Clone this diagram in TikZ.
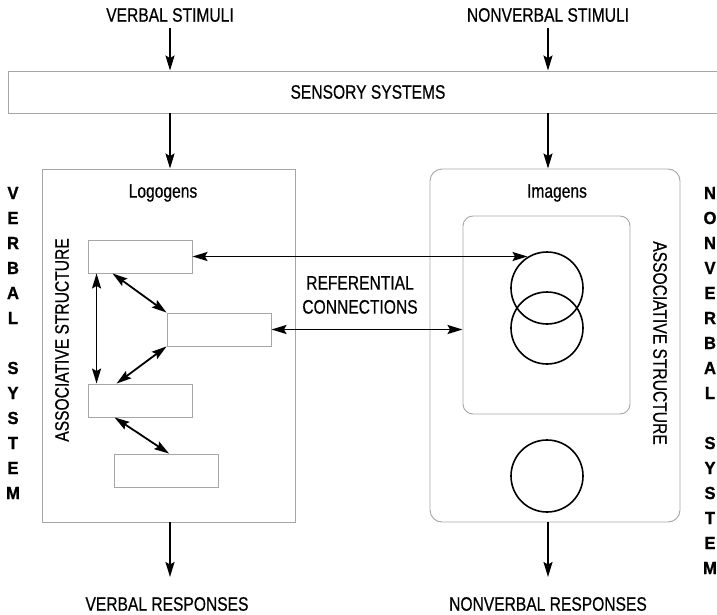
\documentclass[tikz,border=0pt]{standalone}
\usepackage{fontspec}
\newfontfamily\diagfont{Liberation Sans}[FakeStretch=0.8,FakeBold=0.5]
\newfontfamily\sysfont{Liberation Sans Bold}[FakeStretch=0.95,FakeBold=1]
\usetikzlibrary{arrows.meta}

\tikzset{
  lbl/.style={font=\diagfont\fontsize{19.5}{24}\selectfont, inner sep=2pt},
  sysletter/.style={font=\sysfont\fontsize{17.5}{20}\selectfont, inner sep=0pt},
  box/.style={draw=gray!70, line width=0.9pt},
  logo/.style={box, minimum width=104pt, minimum height=33pt, inner sep=0pt},
  img/.style={circle, draw, line width=1.6pt, minimum size=72pt, inner sep=0pt},
  tip/.tip={Stealth[length=15pt,width=9pt,inset=2.5pt]},
  arr/.style={line width=1.8pt, -tip},
  dbl/.style={line width=1.8pt, tip-tip},
}

\begin{document}
\begin{tikzpicture}[x=1pt,y=-1pt]
\useasboundingbox (0,0) rectangle (717,615);
\clip (0,0) rectangle (717,615);

% stimuli and sensory systems
\node[lbl] (vstim) at (170,15) {VERBAL STIMULI};
\node[lbl] (nvstim) at (548,15) {NONVERBAL STIMULI};
\node[lbl, box, minimum width=720pt, minimum height=42pt] (sensory) at (368,92) {SENSORY SYSTEMS};

% the two systems
\node[box, minimum width=253pt, minimum height=353pt] (verbal) at (168.5,345.5) {};
\node[box, rounded corners=12pt, minimum width=250pt, minimum height=353pt] (nonverbal) at (555,345.5) {};
\node[box, rounded corners=10pt, minimum width=167pt, minimum height=198pt] (assoc) at (546.5,315) {};

\node[lbl] (logogens) at (163,193) {Logogens};
\node[lbl] (imagens) at (557,193) {Imagens};
\node[lbl, rotate=90] (vassoc) at (62,340) {ASSOCIATIVE STRUCTURE};
\node[lbl, rotate=-90] (nvassoc) at (660,343) {ASSOCIATIVE STRUCTURE};

% logogens
\node[logo] (r1) at (140,256.5) {};
\node[logo] (r2) at (219,329.5) {};
\node[logo] (r3) at (140,400.5) {};
\node[logo] (r4) at (166.5,470.5) {};

% imagens
\node[img] (c1) at (547,288) {};
\node[img] (c2) at (547,328) {};
\node[img] (c3) at (547,476) {};

% associative connections
\draw[dbl] ([xshift=9pt]r1.south west) -- ([xshift=9pt]r3.north west);
\draw[dbl] ([xshift=25pt]r1.south west) -- (r2.north west);
\draw[dbl] (r2.south west) -- ([xshift=29pt]r3.north west);
\draw[dbl] ([xshift=27pt]r3.south west) -- ([xshift=55pt]r4.north west);

% referential connections
\draw[dbl] (r1.east) -- (r1.east -| c1.122);
\draw[dbl] (r2.east) -- (r2.east -| assoc.west);
\node[lbl, align=center] (refer) at (360,295) {REFERENTIAL\\CONNECTIONS};

% in and out
\draw[arr] ([yshift=-4pt]vstim.south) -- (vstim |- sensory.north);
\draw[arr] ([yshift=-4pt]nvstim.south) -- (nvstim |- sensory.north);
\draw[arr] (sensory.south -| vstim) -- (vstim |- verbal.north);
\draw[arr] (sensory.south -| nvstim) -- (nvstim |- nonverbal.north);

\node[lbl] (vresp) at (167,604) {VERBAL RESPONSES};
\node[lbl] (nvresp) at (548,604) {NONVERBAL RESPONSES};
\coordinate (vend) at (170,577);
\coordinate (nvend) at (548,577);
\draw[arr] (verbal.south -| vend) -- (vend);
\draw[arr] (nonverbal.south -| nvend) -- (nvend);

% system names
\foreach \ch [count=\i from 0] in {V,E,R,B,A,L,,S,Y,S,T,E,M}
  \node[sysletter] (vs\i) at (13,193+25*\i) {\ch};
\foreach \ch [count=\i from 0] in {N,O,N,V,E,R,B,A,L,,S,Y,S,T,E,M}
  \node[sysletter] (nvs\i) at (710,193+25*\i) {\ch};

\end{tikzpicture}
\end{document}
